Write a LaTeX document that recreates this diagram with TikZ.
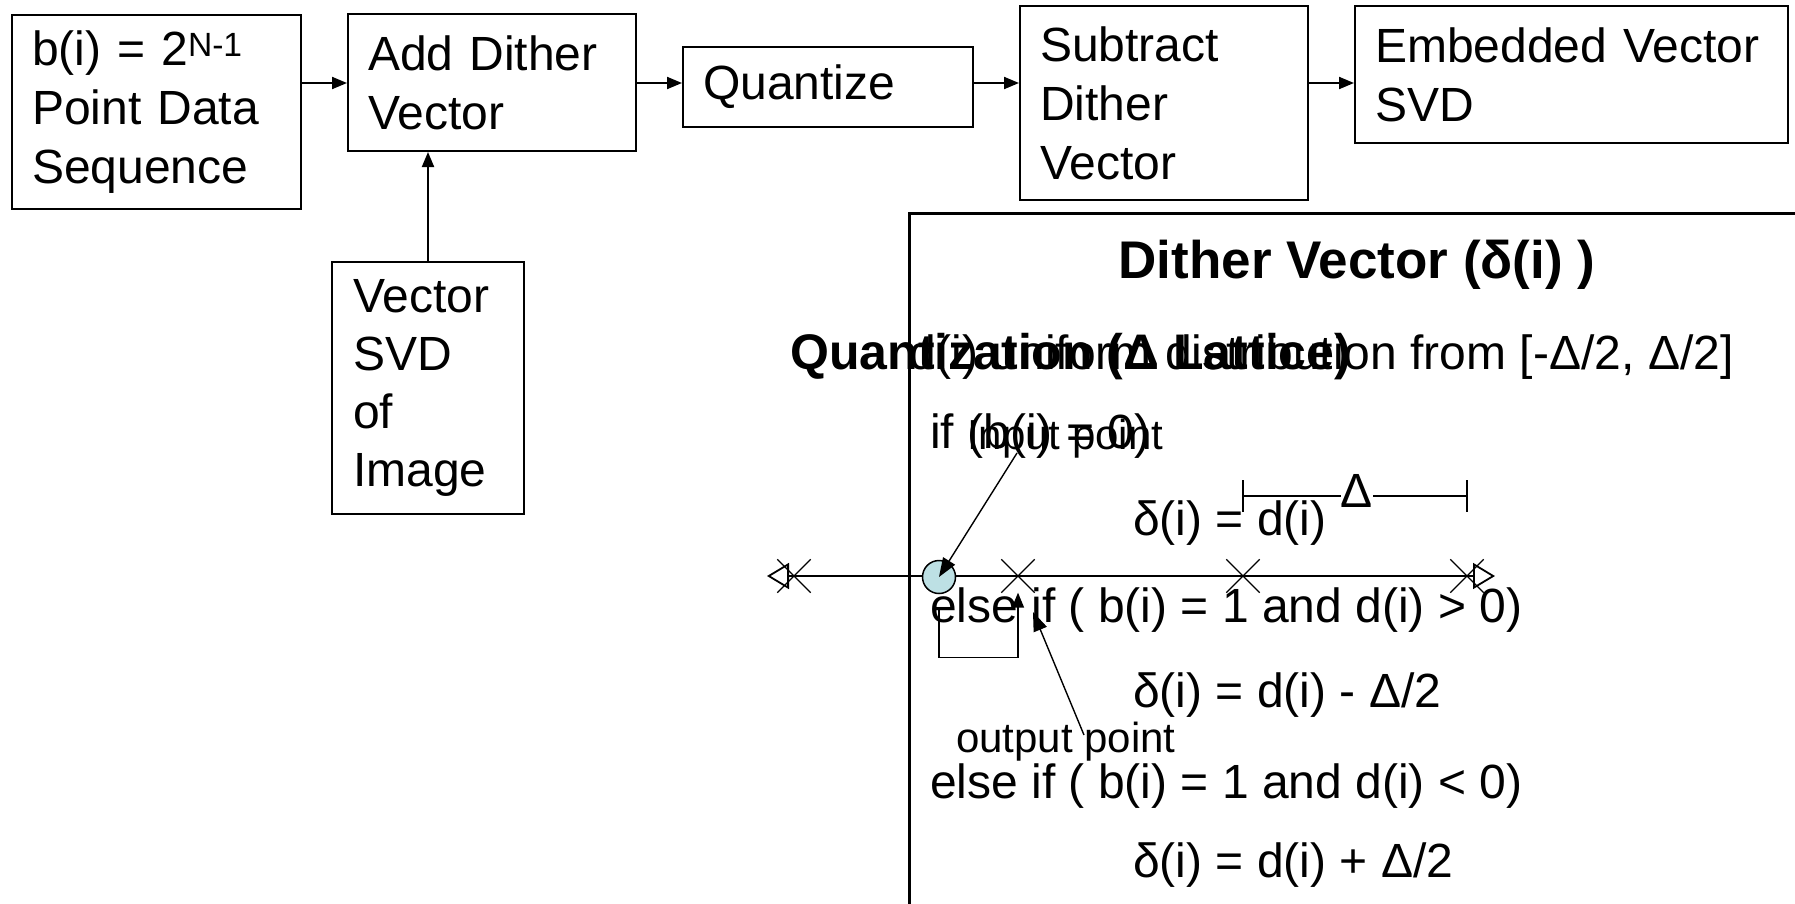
\documentclass[tikz,border=0pt]{standalone}
\usepackage{fontspec}
\setmainfont{Liberation Sans}
\usetikzlibrary{arrows.meta,shapes.misc,calc}

\definecolor{pointfill}{RGB}{189,224,228}

% font sizes (1 unit = 1pt)
\newcommand\bxfont{\fontsize{48}{59}\selectfont}
\newcommand\bdfont{\fontsize{48}{56}\selectfont}
\newcommand\lblfont{\fontsize{42}{50}\selectfont}
\newcommand\ttlfont{\fontsize{53}{60}\selectfont\bfseries}
\newcommand\qfont{\fontsize{50}{60}\selectfont\bfseries}

\begin{document}
\begin{tikzpicture}[x=1pt,y=-1pt,
  stage/.style={draw, line width=2pt, anchor=north west, inner ysep=0pt,
                inner xsep=20pt, align=left, font=\bxfont},
  flow/.style={line width=2pt, -{Triangle[length=15pt,width=12pt]}},
  txt/.style={anchor=base west, inner sep=0pt, font=\bdfont},
  xmark/.style={cross out, draw, minimum size=32pt, inner sep=0pt, line width=1.3pt},
  ptr/.style={line width=1.4pt, -{Triangle[length=19pt,width=14pt]}},
  axisline/.style={line width=1.8pt,
     {Triangle[open,length=22pt,width=26pt]}-{Triangle[open,length=22pt,width=26pt]}},
]
\useasboundingbox (0,0) rectangle (1795,903);
\fill[white] (0,0) rectangle (1795,903);
\clip (0,0) rectangle (1795,903);

% ---- processing chain ----
\node[stage, text width=249pt, minimum height=194pt] (b1) at (11,14)
  {b(i) = 2\textsuperscript{N-1}\\Point Data\\Sequence};
\node[stage, text width=248pt, minimum height=137pt] (b2) at (347,13)
  {Add Dither\\Vector};
\node[stage, text width=250pt, minimum height=80pt] (b3) at (682,46)
  {Quantize};
\node[stage, text width=248pt, minimum height=194pt] (b4) at (1019,5)
  {Subtract\\Dither\\Vector};
\node[stage, text width=393pt, minimum height=137pt] (b5) at (1354,5)
  {Embedded Vector\\SVD};
\node[stage, inner xsep=21pt, text width=150pt, minimum height=252pt,
      font=\fontsize{48}{58}\selectfont] (b6) at (331,261)
  {Vector\\SVD\\of\\Image};

\coordinate (lvl) at (0,83);
\draw[flow] (b1.east |- lvl) -- (b2.west |- lvl);
\draw[flow] (b2.east |- lvl) -- (b3.west |- lvl);
\draw[flow] (b3.east |- lvl) -- (b4.west |- lvl);
\draw[flow] (b4.east |- lvl) -- (b5.west |- lvl);
\draw[flow] (b6.north) -- (b6.north |- b2.south);

% ---- dither vector panel ----
\node[draw, line width=2.5pt, anchor=north west, minimum width=1000pt,
      minimum height=800pt, inner sep=0pt] (panel) at (908,212) {};

\node[txt, anchor=base, font=\ttlfont] (title) at (1357,278) {Dither Vector (δ(i) )};
\node[txt, font=\qfont] (qlat) at (790,369) {Quantization (Δ Lattice)};
\node[txt] (dist) at (909,369) {d(i) uniform distribution from [-Δ/2, Δ/2]};
\node[txt] (if0) at (930,448) {if (b(i) = 0)};
\node[txt] (eq0) at (1133,535) {δ(i) = d(i)};
\node[txt] (ifp) at (930,622) {else if ( b(i) = 1 and d(i) > 0)};
\node[txt] (eqp) at (1133,707) {δ(i) = d(i) - Δ/2};
\node[txt] (ifn) at (930,798) {else if ( b(i) = 1 and d(i) < 0)};
\node[txt] (eqn) at (1133,877) {δ(i) = d(i) + Δ/2};

% ---- lattice number line ----
\coordinate (nlL) at (767,576);
\coordinate (nlR) at (1495,576);
\draw[axisline] (nlL) -- (nlR);
\node[xmark] (c1) at (794,576) {};
\node[xmark] (c2) at (1018,576) {};
\node[xmark] (c3) at (1243,576) {};
\node[xmark] (c4) at (1467,576) {};

% lattice spacing
\coordinate (dl) at (c3 |- 0,496);
\coordinate (dr) at (c4 |- 0,496);
\node[inner sep=0pt, anchor=base, font=\bdfont] (dlt) at (1357,507) {Δ};
\draw[line width=1.5pt] (dl) -- (dl -| dlt.west);
\draw[line width=1.5pt] (dr) -- (dr -| dlt.east);
\draw[line width=1.5pt] ([yshift=16pt]dl) -- ([yshift=-16pt]dl);
\draw[line width=1.5pt] ([yshift=16pt]dr) -- ([yshift=-16pt]dr);

% input point and its quantized output
\node[circle, draw, fill=pointfill, minimum size=33pt, inner sep=0pt,
      line width=1.5pt] (inpt) at (939,577) {};
\node[txt, font=\lblfont] (inlbl) at (967,449) {Input point};
\coordinate (inlblEnd) at (1017,453);
\draw[ptr] (inlblEnd) -- (inpt.center);

\draw[line width=1.5pt, -{Triangle[length=15pt,width=12pt]}]
  ([yshift=-15pt]inpt.south) -- ++(0,48) -| (c2.south);

\node[txt, font=\lblfont] (outlbl) at (956,752) {output point};
\coordinate (outEnd) at (1084,735);
\coordinate (outTip) at (1033,612);
\draw[ptr] (outEnd) -- (outTip);
\end{tikzpicture}
\end{document}
